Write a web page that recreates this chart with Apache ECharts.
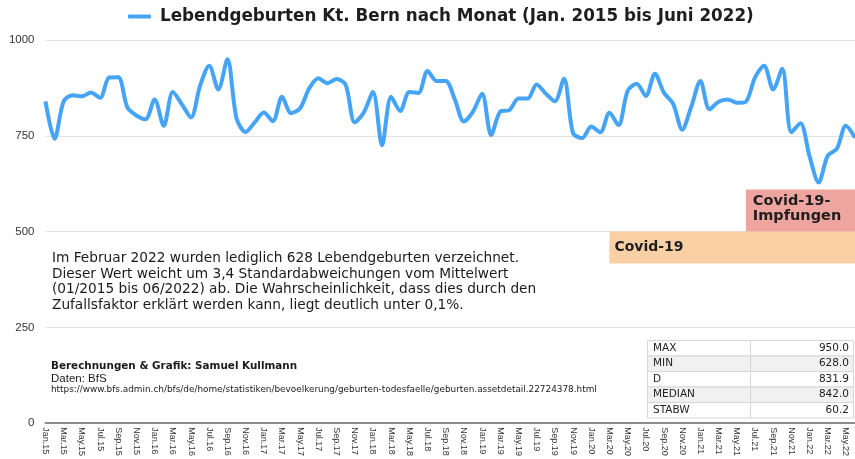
<!DOCTYPE html>
<html>
<head>
<meta charset="utf-8">
<script src="https://cdn.jsdelivr.net/npm/echarts@6/dist/echarts.min.js"></script>
<style>
html,body{margin:0;padding:0;background:#fff;}
#main{width:855px;height:459px;}
</style>
</head>
<body>
<div id="main"></div>
<script>
var seriesName = 'Lebendgeburten Kt. Bern nach Monat (Jan. 2015 bis Juni 2022)';
var monthNames = ['Jan','Feb','Mar','Apr','May','Jun','Jul','Aug','Sep','Oct','Nov','Dec'];
var years = ['15','16','17','18','19','20','21','22'];

// Lebendgeburten pro Monat
var births2015 = [840, 742, 840, 856, 853, 863, 849, 902, 903, 824, 803, 793];
var births2016 = [845, 776, 864, 832, 798, 881, 933, 871, 950, 796, 760, 785];
var births2017 = [811, 788, 852, 809, 822, 874, 900, 887, 898, 883, 785, 811];
var births2018 = [864, 725, 852, 815, 864, 862, 919, 893, 893, 845, 787, 813];
var births2019 = [860, 752, 813, 817, 847, 847, 884, 860, 840, 899, 757, 744];
var births2020 = [774, 759, 810, 778, 867, 886, 854, 912, 862, 834, 766, 826];
var births2021 = [893, 819, 839, 845, 836, 839, 902, 933, 871, 925, 759, 783];
var births2022 = [697, 628, 698, 716, 776, 745];

var yTicks = [0, 250, 500, 750, 1000];

var statLabels = ['MAX', 'MIN', 'D', 'MEDIAN', 'STABW'];
var statValues = ['950.0', '628.0', '831.9', '842.0', '60.2'];

var noteText = 'Im Februar 2022 wurden lediglich 628 Lebendgeburten verzeichnet.\n' +
	'Dieser Wert weicht um 3,4 Standardabweichungen vom Mittelwert\n' +
	'(01/2015 bis 06/2022) ab. Die Wahrscheinlichkeit, dass dies durch den\n' +
	'Zufallsfaktor erklärt werden kann, liegt deutlich unter 0,1%.';
var creditText = 'Berechnungen & Grafik: Samuel Kullmann';
var sourceText = 'Daten: BfS';
var urlText = 'https://www.bfs.admin.ch/bfs/de/home/statistiken/bevoelkerung/geburten-todesfaelle/geburten.assetdetail.22724378.html';

var births = [].concat(births2015, births2016, births2017, births2018, births2019, births2020, births2021, births2022);
var categories = [];
for (var i = 0; i < births.length; i++) {
	categories.push(monthNames[i % 12] + '.' + years[Math.floor(i / 12)]);
}

var fontFam = '"Liberation Sans", Arial, sans-serif';
var wideFam = '"DejaVu Sans", sans-serif';

// Tabelle rechts unten
var tableGraphics = [];
var tLeft = 647, tTop = 340, rowH = 15.5, col1 = 103, col2 = 103;
for (var r = 0; r < statLabels.length; r++) {
	var fill = (r % 2 == 1) ? '#f1f1f1' : '#ffffff';
	tableGraphics.push({
		type: 'rect', left: tLeft, top: tTop + r * rowH,
		shape: { width: col1, height: rowH },
		style: { fill: fill, stroke: '#d6d6d6', lineWidth: 1 }
	});
	tableGraphics.push({
		type: 'rect', left: tLeft + col1, top: tTop + r * rowH,
		shape: { width: col2, height: rowH },
		style: { fill: fill, stroke: '#d6d6d6', lineWidth: 1 }
	});
	tableGraphics.push({
		type: 'text', left: tLeft + 6, top: tTop + r * rowH + 2.5,
		style: { text: statLabels[r], font: '10.5px ' + wideFam, fill: '#222' }
	});
	tableGraphics.push({
		type: 'text', right: 855 - (tLeft + col1 + col2 - 4), top: tTop + r * rowH + 2.5,
		style: { text: statValues[r], font: '10.5px ' + wideFam, fill: '#222' }
	});
}

var chart = echarts.init(document.getElementById('main'));
var option = {
	animation: false,
	backgroundColor: '#ffffff',
	legend: {
		left: 128,
		top: 8,
		padding: 0,
		icon: 'roundRect',
		itemWidth: 23,
		itemHeight: 4,
		textStyle: {
			fontFamily: wideFam,
			fontSize: 16.8,
			fontWeight: 'bold',
			color: '#1e1e1e',
			padding: [0, 0, 0, 4]
		},
		data: [seriesName]
	},
	grid: {
		left: 45.5,
		right: -6,
		top: 40,
		bottom: 32
	},
	xAxis: {
		type: 'category',
		boundaryGap: false,
		data: categories,
		axisLine: { lineStyle: { color: '#8c8c8c', width: 2 } },
		axisTick: { show: false },
		axisLabel: {
			interval: 1,
			rotate: -90,
			margin: 4,
			fontFamily: fontFam,
			fontSize: 9,
			color: '#333'
		},
		splitLine: { show: false }
	},
	yAxis: {
		type: 'value',
		min: yTicks[0],
		max: yTicks[yTicks.length - 1],
		interval: 250,
		axisLine: { show: false },
		axisTick: { show: false },
		axisLabel: {
			margin: 11,
			fontFamily: fontFam,
			fontSize: 11.5,
			color: '#333',
			formatter: function (v) { return String(v); }
		},
		splitLine: { lineStyle: { color: '#e2e2e2', width: 1 } }
	},
	series: [
		{
			name: seriesName,
			type: 'line',
			data: births,
			smooth: 0.3,
			showSymbol: false,
			color: '#46a4f6',
			lineStyle: { width: 4, color: '#46a4f6' },
			markArea: {
				silent: true,
				label: {
					position: 'insideLeft',
					fontFamily: wideFam,
					fontWeight: 'bold',
					fontSize: 14,
					color: '#1e1e1e'
				},
				data: [
					[
						{ name: 'Covid-19', xAxis: 'Mar.20', yAxis: 417, itemStyle: { color: '#f9d0a4' },
							label: { offset: [0, 0] } },
						{ xAxis: 'Jun.22', yAxis: 500 }
					],
					[
						{ name: 'Covid-19-\nImpfungen', xAxis: 'Jun.21', yAxis: 500, itemStyle: { color: '#efa59f' },
							label: { fontSize: 14.5, lineHeight: 15.5, offset: [2, -2] } },
						{ xAxis: 'Jun.22', yAxis: 610 }
					]
				]
			}
		}
	],
	graphic: [
		{
			type: 'text', left: 52, top: 251,
			style: { text: noteText, font: '13.7px ' + wideFam, fill: '#1a1a1a', lineHeight: 15.5 }
		},
		{
			type: 'text', left: 51, top: 361,
			style: { text: creditText, font: 'bold 10.4px ' + wideFam, fill: '#1a1a1a' }
		},
		{
			type: 'text', left: 51, top: 373,
			style: { text: sourceText, font: '11.5px ' + fontFam, fill: '#1a1a1a' }
		},
		{
			type: 'text', left: 51, top: 385,
			style: { text: urlText, font: '8.9px ' + wideFam, fill: '#1a1a1a' }
		}
	].concat(tableGraphics)
};
chart.setOption(option, true);
</script>
</body>
</html>
